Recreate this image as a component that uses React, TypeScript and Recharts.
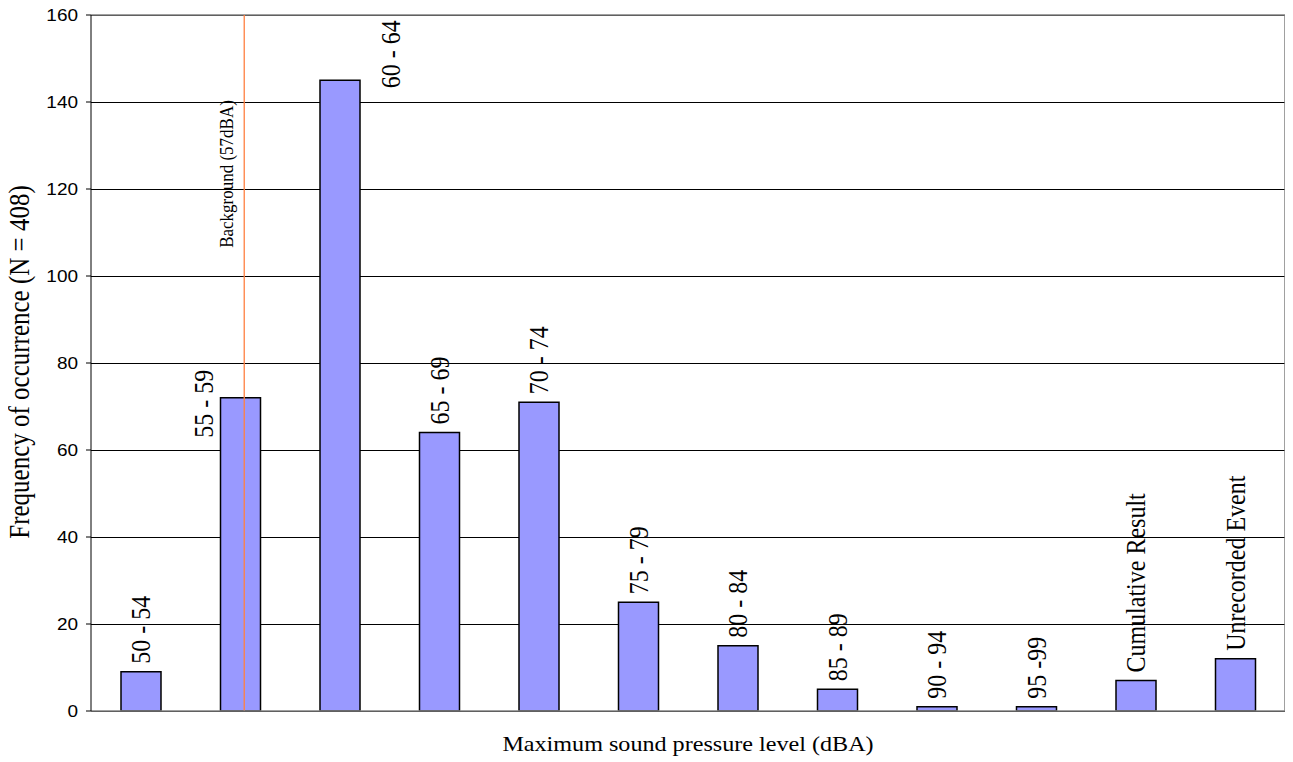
import { BarChart, Bar, XAxis, YAxis, CartesianGrid, ReferenceLine, LabelList } from "recharts";

const ranges = [
  "50 - 54",
  "55 - 59",
  "60 - 64",
  "65 - 69",
  "70 - 74",
  "75 - 79",
  "80 - 84",
  "85 - 89",
  "90 - 94",
  "95 -99",
  "Cumulative Result",
  "Unrecorded Event",
];
const counts = [9, 72, 145, 64, 71, 25, 15, 5, 1, 1, 7, 12];
const yTicks = [0, 20, 40, 60, 80, 100, 120, 140, 160];
// bin i covers [i, i + 1] on the x scale; 57 dBA sits a bit past the middle of 55 - 59
const backgroundAt = 1.54;
const xTitle = "Maximum sound pressure level (dBA)";
const yTitle = "Frequency of occurrence (N = 408)";
const backgroundLabel = "Background (57dBA)";

const data = ranges.map((range, i) => ({ range, pos: i + 0.5, count: counts[i] }));

const SERIF = "'Liberation Serif', 'Times New Roman', serif";
const SANS = "'Liberation Sans', Arial, sans-serif";
// the original render is a little wide, so glyphs get stretched on x
const STRETCH = 1.15;

// two labels are pushed aside of their bars in the original
const labelShift: Record<number, { dx: number; dy: number }> = {
  1: { dx: -37, dy: 48 },
  2: { dx: 51, dy: 16 },
};

function VText({ x, y, size, anchor, children }: { x: number; y: number; size: number; anchor: string; children: any }) {
  return (
    <text
      transform={`translate(${x} ${y}) rotate(-90) scale(1 ${STRETCH})`}
      fontFamily={SERIF}
      fontSize={size}
      textAnchor={anchor as any}
      fill="#000"
    >
      {children}
    </text>
  );
}

function BarTag(props: any) {
  const { x, y, width, index, value } = props;
  const s = labelShift[index] ?? { dx: 0, dy: 0 };
  const cx = Number(x) + Number(width) / 2 + s.dx;
  return (
    <VText x={cx + 9.3} y={Number(y) - 8 + s.dy} size={24} anchor="start">
      {value}
    </VText>
  );
}

function YTick(props: any) {
  return (
    <text
      transform={`translate(${props.x} ${props.y}) scale(${STRETCH} 1)`}
      textAnchor="end"
      dy="0.35em"
      fontFamily={SANS}
      fontSize={16.5}
      fill="#000"
    >
      {props.payload.value}
    </text>
  );
}

export default function App() {
  return (
    <div style={{ width: 1285, height: 754 }}>
      <BarChart
        width={1285}
        height={754}
        data={data}
        margin={{ top: 7, right: 8, bottom: 0, left: 0 }}
      >
        <CartesianGrid vertical={false} stroke="#000" strokeWidth={1} shapeRendering="crispEdges" />
        <XAxis
          dataKey="pos"
          type="number"
          domain={[0, ranges.length]}
          allowDataOverflow
          padding={{ left: 0, right: 0 }}
          height={51}
          tick={false}
          tickLine={false}
          axisLine={{ stroke: "#808080", strokeWidth: 1.5 }}
          label={{
            content: (p: any) => {
              const vb = p.viewBox;
              return (
                <text
                  transform={`translate(${vb.x + vb.width / 2} ${vb.y + 40}) scale(${STRETCH} 1)`}
                  textAnchor="middle"
                  fontFamily={SERIF}
                  fontSize={21}
                  fill="#000"
                >
                  {xTitle}
                </text>
              );
            },
          }}
        />
        <YAxis
          width={83}
          domain={[0, 160]}
          ticks={yTicks}
          interval={0}
          tick={<YTick />}
          tickSize={5}
          tickMargin={8}
          tickLine={{ stroke: "#000" }}
          axisLine={{ stroke: "#000" }}
          label={{
            content: (p: any) => {
              const vb = p.viewBox;
              return (
                <VText x={vb.x + 21} y={vb.y + vb.height / 2 - 1} size={25} anchor="middle">
                  {yTitle}
                </VText>
              );
            },
          }}
        />
        <ReferenceLine y={160} stroke="#808080" strokeWidth={1.5} />
        <ReferenceLine x={ranges.length} stroke="#808080" strokeWidth={1.5} />
        <Bar
          dataKey="count"
          barSize={40}
          fill="#9999FF"
          stroke="#000"
          strokeWidth={1.5}
          isAnimationActive={false}
        >
          <LabelList dataKey="range" content={BarTag} />
        </Bar>
        <ReferenceLine
          x={backgroundAt}
          stroke="#FF8040"
          strokeWidth={1.3}
          label={{
            content: (p: any) => {
              const vb = p.viewBox;
              return (
                <VText x={vb.x - 11} y={vb.y + 159} size={17} anchor="middle">
                  {backgroundLabel}
                </VText>
              );
            },
          }}
        />
      </BarChart>
    </div>
  );
}
